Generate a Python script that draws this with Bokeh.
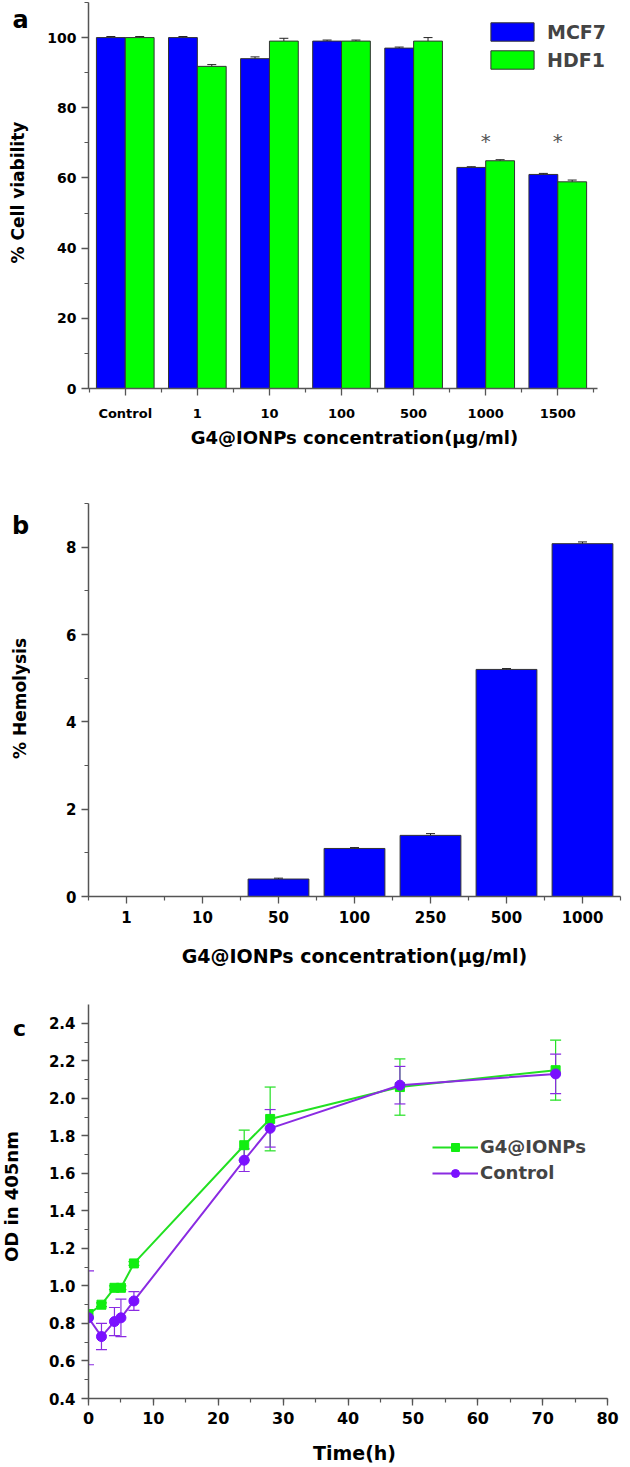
import math
from bokeh.plotting import figure
from bokeh.models import (ColumnDataSource, Whisker, TeeHead, Legend, LegendItem,
                          FixedTicker, SingleIntervalTicker, PrintfTickFormatter, Range1d)
from bokeh.layouts import column, row
from bokeh.embed import file_html
from bokeh.resources import INLINE
from bokeh.core.properties import value

FONT = "DejaVu Sans"

# ---------------- Panel a: cell viability ----------------
conc_a = ["Control", "1", "10", "100", "500", "1000", "1500"]
mcf7 = [100.0, 100.0, 94.0, 99.0, 97.0, 63.0, 61.0]
mcf7_err = [0.3, 0.3, 0.5, 0.3, 0.3, 0.2, 0.3]
hdf1 = [100.0, 91.8, 99.0, 99.0, 99.0, 64.9, 58.9]
hdf1_err = [0.3, 0.5, 0.8, 0.3, 1.0, 0.3, 0.5]
sig_conc = ["1000", "1500"]
sig_level = [70.5, 70.5]

# ---------------- Panel b: hemolysis ----------------
conc_b = ["1", "10", "50", "100", "250", "500", "1000"]
hemolysis = [0.0, 0.0, 0.4, 1.1, 1.4, 5.2, 8.08]
hemolysis_err = [0.0, 0.0, 0.02, 0.02, 0.04, 0.02, 0.04]

# ---------------- Panel c: OD over time ----------------
time_h = [0, 2, 4, 5, 7, 24, 28, 48, 72]
od_g4 = [0.85, 0.90, 0.99, 0.99, 1.12, 1.75, 1.89, 2.06, 2.15]
od_g4_err = [0.02, 0.01, 0.01, 0.01, 0.01, 0.08, 0.17, 0.15, 0.16]
od_ctrl = [0.83, 0.73, 0.81, 0.83, 0.92, 1.67, 1.84, 2.07, 2.13]
od_ctrl_err = [0.25, 0.07, 0.075, 0.10, 0.05, 0.06, 0.10, 0.10, 0.105]

BLUE = "#0000ff"
GREEN = "#00ff00"
EDGE = "#333333"
AXIS = "#555555"
LINE_G = "#22e022"
MARK_G = "#11ee11"
LINE_P = "#8a2be2"
MARK_P = "#7a10ff"

STRIP_W = 30
MAIN_W = 598
BL, BR = 58, 8          # identical frame borders for all three panels


def style(p):
    p.outline_line_color = None
    p.background_fill_color = "white"
    p.border_fill_color = "white"
    p.xgrid.visible = False
    p.ygrid.visible = False
    for ax in (p.xaxis[0], p.yaxis[0]):
        ax.axis_line_color = AXIS
        ax.axis_line_width = 1.5
        ax.major_tick_line_color = AXIS
        ax.minor_tick_line_color = AXIS
        ax.major_tick_line_width = 1.3
        ax.minor_tick_line_width = 1.2
        ax.major_tick_in = 0
        ax.major_tick_out = 7
        ax.minor_tick_in = 0
        ax.minor_tick_out = 4
        ax.major_label_text_font = FONT
        ax.major_label_text_font_style = "bold"
        ax.major_label_text_color = "black"
        ax.axis_label_text_font = FONT
        ax.axis_label_text_font_style = "bold"
        ax.axis_label_text_color = "black"


def strip(top, height, btop, bbottom, letter, lx, ly, lsize, title, tx, ty, tsize):
    """Narrow side figure (its frame is aligned with the main frame) holding the
    panel letter and the rotated y-axis title; y is measured in page pixels."""
    s = figure(width=STRIP_W, height=height, output_backend="svg", toolbar_location=None,
               x_range=Range1d(0, STRIP_W),
               y_range=Range1d(top + height - bbottom, top + btop),
               x_axis_type=None, y_axis_type=None,
               min_border_left=0, min_border_right=0,
               min_border_top=btop, min_border_bottom=bbottom)
    s.outline_line_color = None
    s.xgrid.visible = False
    s.ygrid.visible = False
    s.text(x=[lx], y=[ly], text=[letter], text_font=value(FONT), text_font_style="bold",
           text_font_size=lsize, text_align="center", text_baseline="alphabetic",
           text_color="black")
    s.text(x=[tx], y=[ty], text=[title], angle=math.pi / 2, text_font=value(FONT),
           text_font_style="bold", text_font_size=tsize, text_align="center",
           text_baseline="middle", text_color="black")
    return s


# ======== Figure a ========
TA, HA, A_T, A_B = 0, 460, 2, 72
idx_a = list(range(len(conc_a)))
pa = figure(width=MAIN_W, height=HA, output_backend="svg", toolbar_location=None,
            x_range=Range1d(-0.51, 6.87), y_range=Range1d(0, 110),
            min_border_left=BL, min_border_right=BR, min_border_top=A_T, min_border_bottom=A_B)
style(pa)
x_m = [i - 0.2 for i in idx_a]
x_h = [i + 0.2 for i in idx_a]
r_m = pa.vbar(x=x_m, top=mcf7, width=0.4, fill_color=BLUE, line_color=EDGE, line_width=1)
r_h = pa.vbar(x=x_h, top=hdf1, width=0.4, fill_color=GREEN, line_color=EDGE, line_width=1)
for xs, vals, errs in ((x_m, mcf7, mcf7_err), (x_h, hdf1, hdf1_err)):
    src = ColumnDataSource(dict(base=xs, upper=[v + e for v, e in zip(vals, errs)],
                                lower=[v - e for v, e in zip(vals, errs)]))
    pa.add_layout(Whisker(base="base", upper="upper", lower="lower", source=src,
                          line_color="#222222", line_width=1,
                          upper_head=TeeHead(size=9, line_color="#222222", line_width=1),
                          lower_head=TeeHead(size=9, line_color="#222222", line_width=1)))
pa.text(x=[conc_a.index(c) for c in sig_conc], y=sig_level, text=["*"] * len(sig_conc),
        text_font=value(FONT), text_font_size="20px", text_color="#555555",
        text_align="center", text_baseline="middle")
pa.xaxis.bounds = (-0.51, 6.55)
pa.xaxis.ticker = FixedTicker(ticks=idx_a, minor_ticks=[i + 0.5 for i in range(-1, len(conc_a))])
pa.xaxis.major_label_overrides = {i: c for i, c in enumerate(conc_a)}
pa.xaxis.major_label_text_font_size = "13px"
pa.xaxis.major_label_standoff = 10
pa.xaxis.axis_label = "G4@IONPs concentration(μg/ml)"
pa.xaxis.axis_label_text_font_size = "18px"
pa.xaxis.axis_label_standoff = 3
pa.yaxis.ticker = SingleIntervalTicker(interval=20, num_minor_ticks=2)
pa.yaxis.major_label_text_font_size = "14px"
pa.yaxis.major_label_standoff = 5
leg_a = Legend(items=[LegendItem(label="MCF7", renderers=[r_m]),
                      LegendItem(label="HDF1", renderers=[r_h])],
               location=(397, 317), glyph_width=54, glyph_height=23, label_height=23,
               spacing=5, label_standoff=8, padding=0, margin=0,
               border_line_color=None, background_fill_alpha=0,
               label_text_font=FONT, label_text_font_style="bold", label_text_font_size="19px")
pa.add_layout(leg_a)
sa = strip(TA, HA, A_T, A_B, "a", 20, 19, "24px", "% Cell viability", 17.5, 192, "17px")

# ======== Figure b ========
TB, HB, B_T, B_B = 460, 525, 43, 89
idx_b = list(range(len(conc_b)))
pb = figure(width=MAIN_W, height=HB, output_backend="svg", toolbar_location=None,
            x_range=Range1d(-0.5, 6.5), y_range=Range1d(0, 9),
            min_border_left=BL, min_border_right=BR, min_border_top=B_T, min_border_bottom=B_B)
style(pb)
pb.vbar(x=idx_b, top=hemolysis, width=0.8, fill_color=BLUE, line_color=EDGE, line_width=1)
keep = [i for i, e in enumerate(hemolysis_err) if e > 0]
src_b = ColumnDataSource(dict(base=[idx_b[i] for i in keep],
                              upper=[hemolysis[i] + hemolysis_err[i] for i in keep],
                              lower=[hemolysis[i] - hemolysis_err[i] for i in keep]))
pb.add_layout(Whisker(base="base", upper="upper", lower="lower", source=src_b,
                      line_color="#222222", line_width=1,
                      upper_head=TeeHead(size=9, line_color="#222222", line_width=1),
                      lower_head=TeeHead(size=9, line_color="#222222", line_width=1)))
pb.xaxis.ticker = FixedTicker(ticks=idx_b, minor_ticks=[i + 0.5 for i in range(-1, len(conc_b))])
pb.xaxis.major_label_overrides = {i: c for i, c in enumerate(conc_b)}
pb.xaxis.major_label_text_font_size = "15px"
pb.xaxis.major_label_standoff = 7
pb.xaxis.axis_label = "G4@IONPs concentration(μg/ml)"
pb.xaxis.axis_label_text_font_size = "19px"
pb.xaxis.axis_label_standoff = 19
pb.yaxis.ticker = SingleIntervalTicker(interval=2, num_minor_ticks=2)
pb.yaxis.major_label_text_font_size = "15px"
pb.yaxis.major_label_standoff = 5
sb = strip(TB, HB, B_T, B_B, "b", 20, 525, "24px", "% Hemolysis", 19, 698, "17px")

# ======== Figure c ========
TC, HC, C_T, C_B = 985, 481, 19, 66
pc = figure(width=MAIN_W, height=HC, output_backend="svg", toolbar_location=None,
            x_range=Range1d(0, 82), y_range=Range1d(0.4, 2.5),
            min_border_left=BL, min_border_right=BR, min_border_top=C_T, min_border_bottom=C_B)
style(pc)
series = [(od_g4, od_g4_err, LINE_G, MARK_G, "square", 9, "G4@IONPs"),
          (od_ctrl, od_ctrl_err, LINE_P, MARK_P, "circle", 10, "Control")]
items = []
for vals, errs, lc, mc, mk, sz, lab in series:
    src = ColumnDataSource(dict(base=time_h, upper=[v + e for v, e in zip(vals, errs)],
                                lower=[v - e for v, e in zip(vals, errs)]))
    pc.add_layout(Whisker(base="base", upper="upper", lower="lower", source=src,
                          line_color=lc, line_width=1.2,
                          upper_head=TeeHead(size=11, line_color=lc, line_width=1.2),
                          lower_head=TeeHead(size=11, line_color=lc, line_width=1.2)))
    rl = pc.line(time_h, vals, line_color=lc, line_width=2)
    rs = pc.scatter(time_h, vals, marker=mk, size=sz, fill_color=mc, line_color=mc)
    items.append(LegendItem(label=lab, renderers=[rl, rs]))
pc.xaxis.bounds = (0, 80)
pc.xaxis.ticker = SingleIntervalTicker(interval=10, num_minor_ticks=2)
pc.xaxis.major_label_text_font_size = "16px"
pc.xaxis.major_label_standoff = 6
pc.xaxis.axis_label = "Time(h)"
pc.xaxis.axis_label_text_font_size = "19px"
pc.xaxis.axis_label_standoff = 15
pc.yaxis.ticker = SingleIntervalTicker(interval=0.2, num_minor_ticks=2)
pc.yaxis.formatter = PrintfTickFormatter(format="%.1f")
pc.yaxis.major_label_text_font_size = "15px"
pc.yaxis.major_label_standoff = 6
leg_c = Legend(items=items, location=(344, 215), glyph_width=46, glyph_height=20,
               label_height=20, spacing=5, label_standoff=2, padding=0, margin=0,
               border_line_color=None, background_fill_alpha=0,
               label_text_font=FONT, label_text_font_style="bold", label_text_font_size="18px")
pc.add_layout(leg_c)
sc = strip(TC, HC, C_T, C_B, "c", 19, 1028, "22px", "OD in 405nm", 11, 1197, "18px")

layout = column(row(sa, pa, spacing=0), row(sb, pb, spacing=0), row(sc, pc, spacing=0),
                spacing=0)
open("out.html", "w").write(file_html(layout, INLINE))
